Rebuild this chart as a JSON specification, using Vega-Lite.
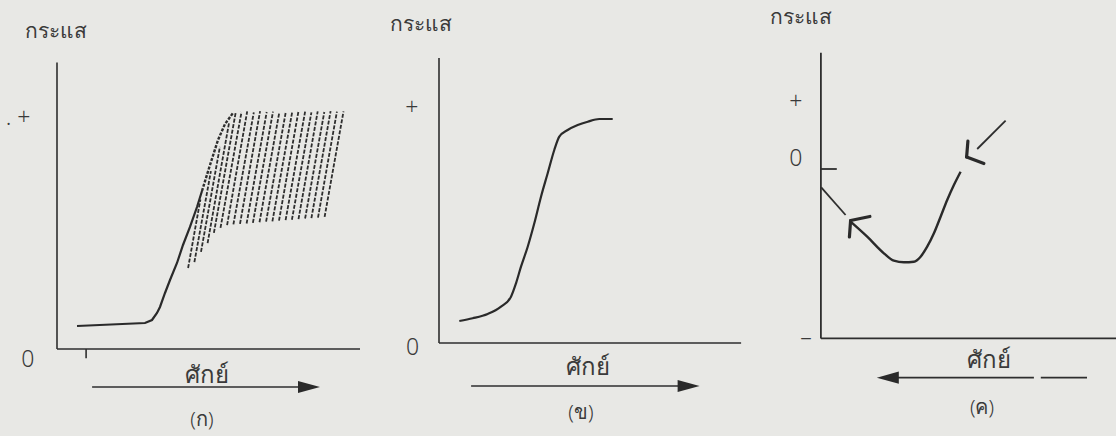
{
  "$schema": "https://vega.github.io/schema/vega-lite/v6.json",
  "background": "#e8e8e5",
  "padding": 0,
  "spacing": 18,
  "config": {
    "view": {"stroke": null},
    "text": {"font": "Noto Sans", "color": "#3a3a3a"}
  },
  "datasets": {
    "p1_segs": [
      {"e": 0, "i": 0, "e2": 0, "i2": 9.2},
      {"e": 0, "i": 0, "e2": 10.1, "i2": 0},
      {"e": 0.97, "i": 0, "e2": 0.97, "i2": -0.3},
      {"e": 1.17, "i": -1.22, "e2": 8.1, "i2": -1.22}
    ],
    "p1_curve": [
      {"k": 1, "e": 0.667, "i": 0.739},
      {"k": 2, "e": 2.933, "i": 0.835},
      {"k": 3, "e": 3.167, "i": 0.931},
      {"k": 4, "e": 3.333, "i": 1.156},
      {"k": 5, "e": 3.433, "i": 1.349},
      {"k": 6, "e": 3.6, "i": 1.798},
      {"k": 7, "e": 3.767, "i": 2.216},
      {"k": 8, "e": 4.0, "i": 2.762},
      {"k": 9, "e": 4.2, "i": 3.34},
      {"k": 10, "e": 4.433, "i": 3.918},
      {"k": 11, "e": 4.667, "i": 4.56},
      {"k": 12, "e": 4.833, "i": 5.074}
    ],
    "p1_edge": [
      {"k": 1, "e": 4.833, "i": 5.074},
      {"k": 2, "e": 5.1, "i": 5.909},
      {"k": 3, "e": 5.367, "i": 6.712},
      {"k": 4, "e": 5.6, "i": 7.225},
      {"k": 5, "e": 5.867, "i": 7.579}
    ],
    "p1_hatch": [
      {"e": 4.37, "i": 2.60, "e2": 4.78, "i2": 4.80},
      {"e": 4.58, "i": 2.79, "e2": 5.13, "i2": 5.71},
      {"e": 4.80, "i": 3.12, "e2": 5.43, "i2": 6.49},
      {"e": 5.02, "i": 3.40, "e2": 5.74, "i2": 7.29},
      {"e": 5.23, "i": 3.73, "e2": 5.96, "i2": 7.61},
      {"e": 5.45, "i": 3.89, "e2": 6.15, "i2": 7.61},
      {"e": 5.67, "i": 3.98, "e2": 6.34, "i2": 7.63},
      {"e": 5.88, "i": 4.00, "e2": 6.56, "i2": 7.60},
      {"e": 6.10, "i": 4.02, "e2": 6.77, "i2": 7.64},
      {"e": 6.32, "i": 4.03, "e2": 6.99, "i2": 7.61},
      {"e": 6.53, "i": 4.05, "e2": 7.20, "i2": 7.62},
      {"e": 6.75, "i": 4.07, "e2": 7.41, "i2": 7.60},
      {"e": 6.97, "i": 4.09, "e2": 7.63, "i2": 7.63},
      {"e": 7.18, "i": 4.10, "e2": 7.84, "i2": 7.61},
      {"e": 7.40, "i": 4.12, "e2": 8.05, "i2": 7.64},
      {"e": 7.62, "i": 4.14, "e2": 8.27, "i2": 7.62},
      {"e": 7.83, "i": 4.15, "e2": 8.48, "i2": 7.60},
      {"e": 8.05, "i": 4.17, "e2": 8.69, "i2": 7.63},
      {"e": 8.27, "i": 4.19, "e2": 8.91, "i2": 7.61},
      {"e": 8.48, "i": 4.20, "e2": 9.12, "i2": 7.64},
      {"e": 8.70, "i": 4.22, "e2": 9.33, "i2": 7.62},
      {"e": 8.92, "i": 4.24, "e2": 9.55, "i2": 7.63}
    ],
    "p1_labels": [
      {"role": "axis", "t": "กระแส", "e": -0.02, "i": 10.18},
      {"role": "sign", "t": ". +", "e": -1.3, "i": 7.42},
      {"role": "sign", "t": "0", "e": -0.97, "i": -0.35},
      {"role": "xtitle", "t": "ศักย์", "e": 5.0, "i": -0.87},
      {"role": "caption", "t": "(ก)", "e": 4.83, "i": -2.28}
    ],
    "p1_heads": [{"dir": "right", "e": 8.4, "i": -1.22}],
    "p2_segs": [
      {"e": 0, "i": 0, "e2": 0, "i2": 9.15},
      {"e": 0, "i": 0, "e2": 10.07, "i2": 0},
      {"e": 1.07, "i": -1.38, "e2": 8.0, "i2": -1.38}
    ],
    "p2_curve": [
      {"k": 1, "e": 0.677, "i": 0.706},
      {"k": 2, "e": 1.123, "i": 0.793},
      {"k": 3, "e": 1.623, "i": 0.931},
      {"k": 4, "e": 2.067, "i": 1.166},
      {"k": 5, "e": 2.4, "i": 1.487},
      {"k": 6, "e": 2.567, "i": 1.917},
      {"k": 7, "e": 2.733, "i": 2.45},
      {"k": 8, "e": 2.957, "i": 3.092},
      {"k": 9, "e": 3.177, "i": 3.844},
      {"k": 10, "e": 3.4, "i": 4.698},
      {"k": 11, "e": 3.623, "i": 5.45},
      {"k": 12, "e": 3.843, "i": 6.198},
      {"k": 13, "e": 4.01, "i": 6.625},
      {"k": 14, "e": 4.29, "i": 6.84},
      {"k": 15, "e": 4.623, "i": 7.0},
      {"k": 16, "e": 4.957, "i": 7.107},
      {"k": 17, "e": 5.343, "i": 7.193},
      {"k": 18, "e": 5.79, "i": 7.193}
    ],
    "p2_labels": [
      {"role": "axis", "t": "กระแส", "e": -0.6, "i": 10.21},
      {"role": "sign", "t": "+", "e": -0.91, "i": 7.55},
      {"role": "sign", "t": "0", "e": -0.88, "i": -0.17},
      {"role": "xtitle", "t": "ศักย์", "e": 4.97, "i": -0.8},
      {"role": "caption", "t": "(ข)", "e": 4.73, "i": -2.25}
    ],
    "p2_heads": [{"dir": "right", "e": 8.32, "i": -1.38}],
    "p3_segs": [
      {"e": 0, "i": -5.44, "e2": 0, "i2": 3.73},
      {"e": 0, "i": -5.44, "e2": 9.97, "i2": -5.44},
      {"e": 0, "i": 0, "e2": 0.53, "i2": 0},
      {"e": 0.01, "i": -0.588, "e2": 0.823, "i2": -1.477},
      {"e": 5.21, "i": 0.642, "e2": 6.157, "i2": 1.551},
      {"e": 2.4, "i": -6.7, "e2": 7.1, "i2": -6.7},
      {"e": 7.33, "i": -6.7, "e2": 8.87, "i2": -6.7}
    ],
    "p3_chevrons": [
      {"e": 0.99, "i": -1.654, "e2": 1.633, "i2": -1.525},
      {"e": 0.99, "i": -1.654, "e2": 0.95, "i2": -2.184},
      {"e": 4.857, "i": 0.385, "e2": 5.433, "i2": 0.177},
      {"e": 4.857, "i": 0.385, "e2": 4.9, "i2": 0.899}
    ],
    "p3_curve": [
      {"k": 1, "e": 0.99, "i": -1.692},
      {"k": 2, "e": 1.543, "i": -2.174},
      {"k": 3, "e": 2.1, "i": -2.707},
      {"k": 4, "e": 2.433, "i": -2.945},
      {"k": 5, "e": 2.767, "i": -2.996},
      {"k": 6, "e": 3.1, "i": -2.977},
      {"k": 7, "e": 3.323, "i": -2.816},
      {"k": 8, "e": 3.543, "i": -2.495},
      {"k": 9, "e": 3.767, "i": -2.065},
      {"k": 10, "e": 3.99, "i": -1.532},
      {"k": 11, "e": 4.21, "i": -0.996},
      {"k": 12, "e": 4.433, "i": -0.514},
      {"k": 13, "e": 4.657, "i": -0.087}
    ],
    "p3_labels": [
      {"role": "axis", "t": "กระแส", "e": -0.68, "i": 4.84},
      {"role": "sign", "t": "+", "e": -0.84, "i": 2.16},
      {"role": "sign", "t": "0", "e": -0.84, "i": 0.31},
      {"role": "sign", "t": "–", "e": -0.5, "i": -5.42},
      {"role": "xtitle", "t": "ศักย์", "e": 5.6, "i": -6.17},
      {"role": "caption", "t": "(ค)", "e": 5.37, "i": -7.67}
    ],
    "p3_heads": [{"dir": "left", "e": 2.23, "i": -6.7}]
  },
  "hconcat": [
    {
      "width": 360,
      "height": 436,
      "encoding": {
        "x": {"field": "e", "type": "quantitative", "scale": {"domain": [-1.9, 10.1], "nice": false, "zero": false}, "axis": null},
        "y": {"field": "i", "type": "quantitative", "scale": {"domain": [-2.794, 11.207], "nice": false, "zero": false}, "axis": null}
      },
      "layer": [
        {"data": {"name": "p1_segs"}, "mark": {"type": "rule", "color": "#2e2e2e", "strokeWidth": 1.6}, "encoding": {"x2": {"field": "e2"}, "y2": {"field": "i2"}}},
        {"data": {"name": "p1_hatch"}, "mark": {"type": "rule", "color": "#2e2e2e", "strokeWidth": 1.8, "strokeDash": [4, 1.6]}, "encoding": {"x2": {"field": "e2"}, "y2": {"field": "i2"}}},
        {"data": {"name": "p1_curve"}, "mark": {"type": "line", "color": "#2a2a2a", "strokeWidth": 2.2}, "encoding": {"order": {"field": "k"}}},
        {"data": {"name": "p1_edge"}, "mark": {"type": "line", "color": "#2e2e2e", "strokeWidth": 2.4, "strokeDash": [3, 1.5]}, "encoding": {"order": {"field": "k"}}},
        {"data": {"name": "p1_heads"}, "mark": {"type": "point", "filled": true, "opacity": 1, "size": 484, "color": "#2a2a2a"},
         "encoding": {"shape": {"field": "dir", "type": "nominal", "scale": {"domain": ["right", "left"], "range": ["M-1,-0.55L1,0L-1,0.55Z", "M1,-0.55L-1,0L1,0.55Z"]}, "legend": null}}},
        {"data": {"name": "p1_labels"}, "transform": [{"filter": "datum.role === 'axis'"}], "mark": {"type": "text", "fontSize": 21, "align": "center", "baseline": "middle"}, "encoding": {"text": {"field": "t"}}},
        {"data": {"name": "p1_labels"}, "transform": [{"filter": "datum.role === 'xtitle'"}], "mark": {"type": "text", "fontSize": 24, "align": "center", "baseline": "middle"}, "encoding": {"text": {"field": "t"}}},
        {"data": {"name": "p1_labels"}, "transform": [{"filter": "datum.role === 'sign'"}], "mark": {"type": "text", "fontSize": 23, "fontWeight": 300, "align": "center", "baseline": "middle"}, "encoding": {"text": {"field": "t"}}},
        {"data": {"name": "p1_labels"}, "transform": [{"filter": "datum.role === 'caption'"}], "mark": {"type": "text", "fontSize": 20, "fontWeight": 300, "align": "center", "baseline": "middle"}, "encoding": {"text": {"field": "t"}}}
      ]
    },
    {
      "width": 360,
      "height": 436,
      "encoding": {
        "x": {"field": "e", "type": "quantitative", "scale": {"domain": [-2, 10], "nice": false, "zero": false}, "axis": null},
        "y": {"field": "i", "type": "quantitative", "scale": {"domain": [-2.987, 11.015], "nice": false, "zero": false}, "axis": null}
      },
      "layer": [
        {"data": {"name": "p2_segs"}, "mark": {"type": "rule", "color": "#2e2e2e", "strokeWidth": 1.6}, "encoding": {"x2": {"field": "e2"}, "y2": {"field": "i2"}}},
        {"data": {"name": "p2_curve"}, "mark": {"type": "line", "color": "#2a2a2a", "strokeWidth": 2.2, "interpolate": "monotone"}, "encoding": {"order": {"field": "k"}}},
        {"data": {"name": "p2_heads"}, "mark": {"type": "point", "filled": true, "opacity": 1, "size": 484, "color": "#2a2a2a"},
         "encoding": {"shape": {"field": "dir", "type": "nominal", "scale": {"domain": ["right", "left"], "range": ["M-1,-0.55L1,0L-1,0.55Z", "M1,-0.55L-1,0L1,0.55Z"]}, "legend": null}}},
        {"data": {"name": "p2_labels"}, "transform": [{"filter": "datum.role === 'axis'"}], "mark": {"type": "text", "fontSize": 21, "align": "center", "baseline": "middle"}, "encoding": {"text": {"field": "t"}}},
        {"data": {"name": "p2_labels"}, "transform": [{"filter": "datum.role === 'xtitle'"}], "mark": {"type": "text", "fontSize": 24, "align": "center", "baseline": "middle"}, "encoding": {"text": {"field": "t"}}},
        {"data": {"name": "p2_labels"}, "transform": [{"filter": "datum.role === 'sign'"}], "mark": {"type": "text", "fontSize": 23, "fontWeight": 300, "align": "center", "baseline": "middle"}, "encoding": {"text": {"field": "t"}}},
        {"data": {"name": "p2_labels"}, "transform": [{"filter": "datum.role === 'caption'"}], "mark": {"type": "text", "fontSize": 20, "fontWeight": 300, "align": "center", "baseline": "middle"}, "encoding": {"text": {"field": "t"}}}
      ]
    },
    {
      "width": 360,
      "height": 436,
      "encoding": {
        "x": {"field": "e", "type": "quantitative", "scale": {"domain": [-2.03, 9.97], "nice": false, "zero": false}, "axis": null},
        "y": {"field": "i", "type": "quantitative", "scale": {"domain": [-8.574, 5.427], "nice": false, "zero": false}, "axis": null}
      },
      "layer": [
        {"data": {"name": "p3_segs"}, "mark": {"type": "rule", "color": "#2e2e2e", "strokeWidth": 1.8}, "encoding": {"x2": {"field": "e2"}, "y2": {"field": "i2"}}},
        {"data": {"name": "p3_chevrons"}, "mark": {"type": "rule", "color": "#2a2a2a", "strokeWidth": 3.2, "strokeCap": "round"}, "encoding": {"x2": {"field": "e2"}, "y2": {"field": "i2"}}},
        {"data": {"name": "p3_curve"}, "mark": {"type": "line", "color": "#2a2a2a", "strokeWidth": 2.4, "interpolate": "monotone"}, "encoding": {"order": {"field": "k"}}},
        {"data": {"name": "p3_heads"}, "mark": {"type": "point", "filled": true, "opacity": 1, "size": 484, "color": "#2a2a2a"},
         "encoding": {"shape": {"field": "dir", "type": "nominal", "scale": {"domain": ["right", "left"], "range": ["M-1,-0.55L1,0L-1,0.55Z", "M1,-0.55L-1,0L1,0.55Z"]}, "legend": null}}},
        {"data": {"name": "p3_labels"}, "transform": [{"filter": "datum.role === 'axis'"}], "mark": {"type": "text", "fontSize": 21, "align": "center", "baseline": "middle"}, "encoding": {"text": {"field": "t"}}},
        {"data": {"name": "p3_labels"}, "transform": [{"filter": "datum.role === 'xtitle'"}], "mark": {"type": "text", "fontSize": 24, "align": "center", "baseline": "middle"}, "encoding": {"text": {"field": "t"}}},
        {"data": {"name": "p3_labels"}, "transform": [{"filter": "datum.role === 'sign'"}], "mark": {"type": "text", "fontSize": 23, "fontWeight": 300, "align": "center", "baseline": "middle"}, "encoding": {"text": {"field": "t"}}},
        {"data": {"name": "p3_labels"}, "transform": [{"filter": "datum.role === 'caption'"}], "mark": {"type": "text", "fontSize": 20, "fontWeight": 300, "align": "center", "baseline": "middle"}, "encoding": {"text": {"field": "t"}}}
      ]
    }
  ]
}
